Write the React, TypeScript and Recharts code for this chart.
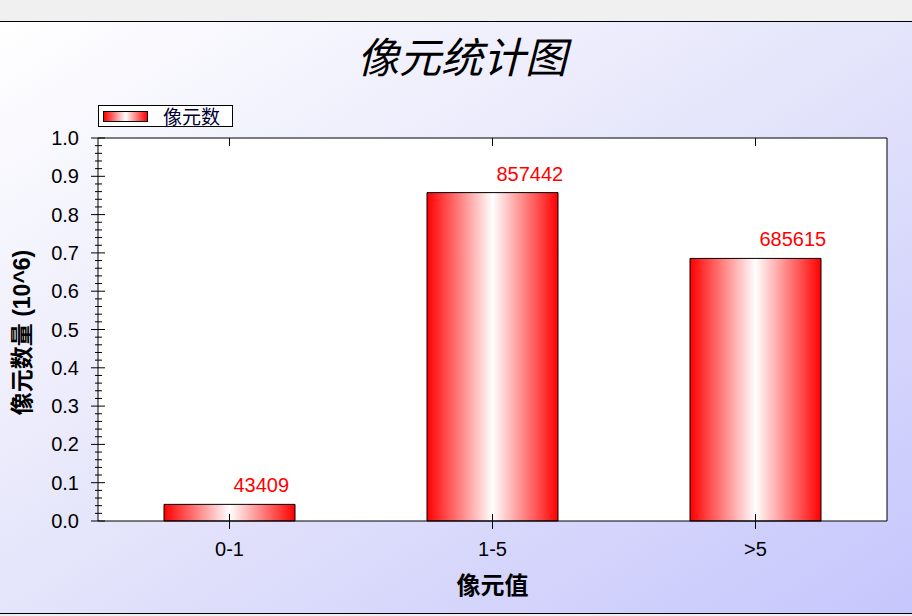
import React from 'react';
import { BarChart, Bar, XAxis, YAxis, CartesianGrid, LabelList, Label } from 'recharts';

const categories = ['0-1', '1-5', '>5'];
const pixelCounts = [43409, 857442, 685615];
const majorTicks = [0, 0.1, 0.2, 0.3, 0.4, 0.5, 0.6, 0.7, 0.8, 0.9, 1.0];
const allTicks = [
  0, 0.02, 0.04, 0.06, 0.08, 0.1, 0.12, 0.14, 0.16, 0.18,
  0.2, 0.22, 0.24, 0.26, 0.28, 0.3, 0.32, 0.34, 0.36, 0.38,
  0.4, 0.42, 0.44, 0.46, 0.48, 0.5, 0.52, 0.54, 0.56, 0.58,
  0.6, 0.62, 0.64, 0.66, 0.68, 0.7, 0.72, 0.74, 0.76, 0.78,
  0.8, 0.82, 0.84, 0.86, 0.88, 0.9, 0.92, 0.94, 0.96, 0.98, 1.0,
];
const titleText = '像元统计图';
const seriesName = '像元数';
const xAxisTitle = '像元值';
const yAxisTitle = '像元数量 (10^6)';

const data = categories.map((c, i) => ({ cat: c, count: pixelCounts[i], value: pixelCounts[i] / 1e6 }));

const FONT = "'Liberation Sans', Arial, 'Noto Sans CJK SC', sans-serif";

const isMajor = (v: number) => majorTicks.some((m) => Math.abs(m - v) < 1e-6);

const LeftTick = (props: any) => {
  const { x, y, payload } = props;
  const major = isMajor(payload.value);
  return (
    <g>
      <line x1={major ? x - 7 : x - 3} x2={major ? x + 7 : x + 4} y1={y} y2={y} stroke="#000" strokeWidth={1} />
      {major && (
        <text x={x - 19} y={y} textAnchor="end" dominantBaseline="central" fontSize={20} fill="#000" fontFamily={FONT}>
          {Number(payload.value).toFixed(1)}
        </text>
      )}
    </g>
  );
};

const RightTick = (props: any) => {
  const { x, y, payload } = props;
  const major = isMajor(payload.value);
  return <line x1={major ? x - 9 : x - 5} x2={x} y1={y} y2={y} stroke="#000" strokeWidth={1} />;
};

const BottomTick = (props: any) => {
  const { x, y, payload } = props;
  return (
    <g>
      <line x1={x} x2={x} y1={y - 7} y2={y + 8} stroke="#000" strokeWidth={1} />
      <text x={x} y={y + 28} textAnchor="middle" dominantBaseline="central" fontSize={20} fill="#000" fontFamily={FONT}>
        {payload.value}
      </text>
    </g>
  );
};

const TopTick = (props: any) => {
  const { x, y } = props;
  return <line x1={x} x2={x} y1={y} y2={y + 8} stroke="#000" strokeWidth={1} />;
};

const ValueLabel = (props: any) => {
  const { x, y, width, index } = props;
  return (
    <text x={x + width / 2 + 4} y={y - 12} textAnchor="start" fontSize={20} fill="#ff0000" fontFamily={FONT}>
      {pixelCounts[index]}
    </text>
  );
};

export default function App() {
  return (
    <div
      style={{
        position: 'fixed',
        left: 0,
        top: 0,
        width: 912,
        height: 616,
        background: '#f0f0f0',
        fontFamily: FONT,
        overflow: 'hidden',
      }}
    >
      <div
        style={{
          position: 'absolute',
          left: 0,
          top: 21,
          width: 912,
          height: 593,
          boxSizing: 'border-box',
          borderTop: '1px solid #000',
          borderBottom: '1px solid #000',
          background: 'linear-gradient(to bottom right, #ffffff 0%, #e4e4fb 50%, #c6c6fd 100%)',
        }}
      />
      <div
        style={{
          position: 'absolute',
          left: 6,
          top: 28,
          width: 912,
          textAlign: 'center',
          fontSize: 42,
          lineHeight: '54px',
          fontStyle: 'italic',
          fontFamily: "'Noto Sans CJK SC', sans-serif",
          color: '#000',
        }}
      >
        {titleText}
      </div>
      <div
        style={{
          position: 'absolute',
          left: 98,
          top: 105,
          width: 135,
          height: 22,
          boxSizing: 'border-box',
          border: '1px solid #000',
          background: '#fff',
        }}
      >
        <div
          style={{
            position: 'absolute',
            left: 4,
            top: 5,
            width: 45,
            height: 11,
            boxSizing: 'border-box',
            border: '1px solid #000',
            background: 'linear-gradient(to right, #ff0000 0%, #ffffff 50%, #ff0000 100%)',
          }}
        />
        <div
          style={{
            position: 'absolute',
            left: 64,
            top: -1,
            fontSize: 19,
            lineHeight: '22px',
            color: '#000033',
            fontFamily: "'Noto Sans CJK SC', sans-serif",
          }}
        >
          {seriesName}
        </div>
      </div>
      <div style={{ position: 'absolute', left: 0, top: 0 }}>
        <BarChart width={912} height={616} data={data} margin={{ top: 137, right: 24, bottom: 55, left: 38 }}>
          <defs>
            <linearGradient id="barGrad" x1="0" y1="0" x2="1" y2="0">
              <stop offset="0%" stopColor="#ff0000" />
              <stop offset="50%" stopColor="#ffffff" />
              <stop offset="100%" stopColor="#ff0000" />
            </linearGradient>
          </defs>
          <CartesianGrid fill="#ffffff" stroke="none" horizontal={false} vertical={false} />
          <XAxis
            xAxisId="b"
            dataKey="cat"
            orientation="bottom"
            height={40}
            axisLine={{ stroke: '#000', strokeWidth: 1 }}
            tickLine={false}
            tickSize={0}
            tickMargin={0}
            tick={<BottomTick />}
            interval={0}
          >
            <Label
              content={(p: any) => {
                const vb = p.viewBox;
                return (
                  <text
                    x={vb.x + vb.width / 2}
                    y={583}
                    textAnchor="middle"
                    dominantBaseline="central"
                    fontSize={24}
                    fontWeight="bold"
                    fill="#000"
                    fontFamily="'Noto Sans CJK SC', sans-serif"
                  >
                    {xAxisTitle}
                  </text>
                );
              }}
            />
          </XAxis>
          <XAxis
            xAxisId="t"
            dataKey="cat"
            orientation="top"
            height={1}
            axisLine={{ stroke: '#000', strokeWidth: 1 }}
            tickLine={false}
            tickSize={0}
            tickMargin={0}
            tick={<TopTick />}
            interval={0}
          />
          <YAxis
            yAxisId="l"
            orientation="left"
            width={60}
            domain={[0, 1]}
            ticks={allTicks}
            interval={0}
            axisLine={{ stroke: '#000', strokeWidth: 1 }}
            tickLine={false}
            tickSize={0}
            tickMargin={0}
            tick={<LeftTick />}
          >
            <Label
              content={(p: any) => {
                const vb = p.viewBox;
                const cx = 22;
                const cy = vb.y + vb.height / 2 + 3;
                return (
                  <text
                    x={cx}
                    y={cy}
                    transform={`rotate(-90 ${cx} ${cy})`}
                    textAnchor="middle"
                    dominantBaseline="central"
                    fontSize={23}
                    fontWeight="bold"
                    fill="#000"
                    fontFamily={FONT}
                  >
                    {yAxisTitle}
                  </text>
                );
              }}
            />
          </YAxis>
          <YAxis
            yAxisId="r"
            orientation="right"
            width={1}
            domain={[0, 1]}
            ticks={allTicks}
            interval={0}
            axisLine={{ stroke: '#000', strokeWidth: 1 }}
            tickLine={false}
            tickSize={0}
            tickMargin={0}
            tick={<RightTick />}
          />
          <Bar
            xAxisId="b"
            yAxisId="l"
            dataKey="value"
            name={seriesName}
            fill="url(#barGrad)"
            stroke="#000"
            strokeWidth={1}
            barSize={131}
            isAnimationActive={false}
          >
            <LabelList dataKey="count" content={<ValueLabel />} />
          </Bar>
        </BarChart>
      </div>
    </div>
  );
}
